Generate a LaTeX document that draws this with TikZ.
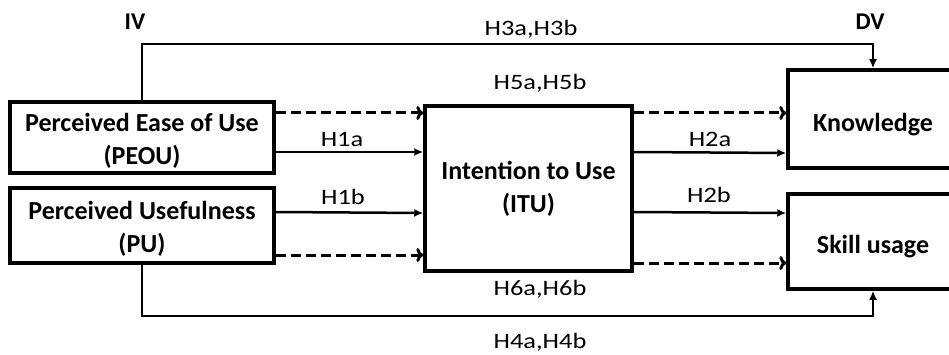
\documentclass[tikz,border=0pt]{standalone}
\usepackage{fontspec}
\setmainfont{Carlito}
\newfontfamily\widefont{Carlito}[FakeStretch=1.2]
\usetikzlibrary{arrows.meta}
% lower a centred block of lines without changing its reported size
\newcommand{\lowered}[2]{\raisebox{-#1}[\height][\depth]{\begin{tabular}{@{}c@{}}#2\end{tabular}}}
\begin{document}
\begin{tikzpicture}[x=1pt,y=-1pt,
  box/.style={draw,line width=3.5pt,inner sep=0pt,font=\bfseries\fontsize{26}{33}\selectfont,align=center},
  lbl/.style={font=\widefont\fontsize{22}{26}\selectfont,inner sep=0pt,anchor=base},
  head/.style={font=\bfseries\fontsize{24}{28}\selectfont,inner sep=0pt,anchor=base},
  solidarr/.style={line width=2.5pt,-{Latex[length=9pt,width=8pt]}},
  dasharr/.style={line width=3pt,dash pattern=on 10pt off 5pt,-{To[length=7pt,width=14pt,line width=3pt]}},
  longarr/.style={line width=1.8pt,-{Latex[length=9pt,width=8pt]}}]
\useasboundingbox (0,0) rectangle (949,355);
% boxes
\node[box,minimum width=264pt,minimum height=71pt] (peou) at (142,137.5) {\lowered{3.5pt}{Perceived Ease of Use\\(PEOU)}};
\node[box,minimum width=264pt,minimum height=75pt] (pu) at (142,225.5) {\lowered{3.5pt}{Perceived Usefulness\\(PU)}};
\node[box,minimum width=207pt,minimum height=165pt] (itu) at (528.5,188.5) {Intention to Use\\(ITU)};
\node[box,minimum width=170pt,minimum height=98pt] (kn) at (873,119) {\lowered{6pt}{Knowledge}};
\node[box,minimum width=170pt,minimum height=95pt] (sk) at (873,241.5) {\lowered{5pt}{Skill usage}};
% headings
\node[head] (iv) at (135,30) {IV};
\node[head] (dv) at (870,30) {DV};
% links into ITU
\draw[dasharr] (peou.east |- 0,113) -- (itu.west |- 0,113);
\draw[solidarr] (peou.east |- 0,152) -- (itu.west |- 0,152);
\draw[solidarr] (pu.east |- 0,212) -- (itu.west |- 0,213);
\draw[dasharr] (pu.east |- 0,255) -- (itu.west |- 0,255);
% links out of ITU
\draw[dasharr] (itu.east |- 0,113) -- (kn.west |- 0,113);
\draw[solidarr] (itu.east |- 0,152) -- (kn.west |- 0,153);
\draw[solidarr] (itu.east |- 0,212) -- (sk.west |- 0,213);
\draw[dasharr] (itu.east |- 0,263) -- (sk.west |- 0,263);
% direct links
\draw[longarr] (peou.north) -- (142,44) -| (kn.north);
\draw[longarr] (pu.south) -- (142,316) -| (sk.south);
% labels
\node[lbl] (h1a) at (342,147) {H1a};
\node[lbl] (h1b) at (343,205) {H1b};
\node[lbl] (h2a) at (710,147) {H2a};
\node[lbl] (h2b) at (709,203) {H2b};
\node[lbl] (h3) at (531,36) {H3a,H3b};
\node[lbl] (h5) at (540,90) {H5a,H5b};
\node[lbl] (h6) at (540,295) {H6a,H6b};
\node[lbl] (h4) at (540,348) {H4a,H4b};
\end{tikzpicture}
\end{document}
